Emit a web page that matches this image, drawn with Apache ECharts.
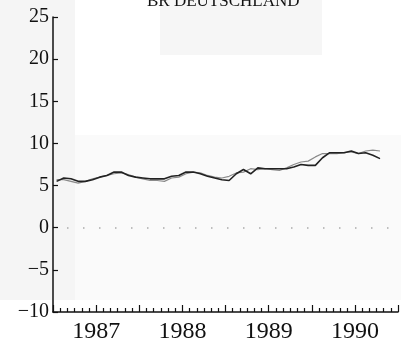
<!DOCTYPE html>
<html>
<head>
<meta charset="utf-8">
<script src="https://cdn.jsdelivr.net/npm/echarts@6/dist/echarts.min.js"></script>
<style>
  html, body { margin: 0; padding: 0; background: #ffffff; }
  #chart { width: 401px; height: 347px; }
</style>
</head>
<body>
<div id="chart"></div>
<script>
// Monthly rates, Jan 1987 .. Oct 1990 (month index 0 = Jan 1987)
const title = 'BR DEUTSCHLAND';
const years = ['1987', '1988', '1989', '1990'];
const seriesDark = [
  5.5, 5.9, 5.8, 5.5, 5.5, 5.7, 6.0, 6.2, 6.6, 6.6, 6.2, 6.0,
  5.9, 5.8, 5.8, 5.8, 6.1, 6.2, 6.6, 6.6, 6.4, 6.1, 5.9, 5.7,
  5.6, 6.4, 6.9, 6.4, 7.1, 7.0, 7.0, 7.0, 7.0, 7.2, 7.5, 7.4,
  7.4, 8.3, 8.9, 8.9, 8.9, 9.1, 8.8, 8.9, 8.6, 8.2
];
const seriesLight = [
  5.7, 5.7, 5.5, 5.3, 5.5, 5.8, 6.0, 6.2, 6.4, 6.5, 6.3, 6.0,
  5.8, 5.6, 5.6, 5.5, 5.9, 6.0, 6.4, 6.6, 6.5, 6.2, 6.0, 5.9,
  6.1, 6.5, 6.6, 7.0, 6.9, 7.0, 6.9, 6.8, 7.1, 7.5, 7.8, 7.9,
  8.4, 8.8, 8.8, 8.8, 8.9, 9.0, 8.8, 9.1, 9.2, 9.1
];
const yTicks = { min: -10, max: 25, step: 5 };

// place each monthly value at the middle of its month
const toPoints = arr => arr.map((v, i) => [i + 0.5, v]);

const serif = 'Liberation Serif';
const ink = '#111';
const chart = echarts.init(document.getElementById('chart'), null, { renderer: 'canvas' });

chart.setOption({
  animation: false,
  backgroundColor: '#ffffff',
  graphic: [
    { type: 'rect', z: -10, silent: true, shape: { x: 0, y: 0, width: 75, height: 300 }, style: { fill: '#f5f5f5' } },
    { type: 'rect', z: -10, silent: true, shape: { x: 160, y: 0, width: 162, height: 55 }, style: { fill: '#f6f6f6' } },
    { type: 'rect', z: -10, silent: true, shape: { x: 75, y: 135, width: 326, height: 165 }, style: { fill: '#fafafa' } }
  ],
  title: {
    text: title,
    left: 147,
    top: -7,
    padding: 0,
    textStyle: { fontFamily: serif, fontSize: 17, fontWeight: 'normal', color: ink }
  },
  grid: { left: 53, right: 1, top: 17, bottom: 35 },
  xAxis: {
    // months since Jan 1987: ticks every half year, minor ticks every month,
    // year name written at mid-year
    type: 'value',
    min: 0,
    max: 48,
    interval: 6,
    axisLine: { onZero: false, lineStyle: { color: ink, width: 1.5 } },
    axisTick: { show: true, inside: true, length: 7, lineStyle: { color: ink, width: 1.2 } },
    minorTick: { show: true, splitNumber: 6, length: 4, lineStyle: { color: ink, width: 1.2 } },
    splitLine: { show: false },
    minorSplitLine: { show: false },
    axisLabel: {
      formatter: v => (v % 12 === 6 ? years[Math.floor(v / 12)] : ''),
      margin: 8,
      fontFamily: serif,
      fontSize: 24,
      color: ink
    }
  },
  yAxis: {
    type: 'value',
    min: yTicks.min,
    max: yTicks.max,
    interval: yTicks.step,
    axisLine: { show: true, lineStyle: { color: ink, width: 1.5 } },
    axisTick: { show: true, inside: true, length: 5, lineStyle: { color: ink, width: 1.2 } },
    splitLine: { show: false },
    axisLabel: {
      formatter: v => String(v).replace('-', '\u2212'),
      margin: 4,
      fontFamily: serif,
      fontSize: 20,
      color: ink
    }
  },
  series: [
    {
      type: 'line',
      data: toPoints(seriesLight),
      symbol: 'none',
      lineStyle: { color: '#8a8a8a', width: 1.2 },
      z: 2
    },
    {
      type: 'line',
      data: toPoints(seriesDark),
      symbol: 'none',
      lineStyle: { color: '#222', width: 1.6 },
      z: 3,
      markLine: {
        silent: true,
        symbol: 'none',
        label: { show: false },
        lineStyle: { color: '#aaa', width: 1.5, type: [1.5, 14.5], dashOffset: -14 },
        data: [{ yAxis: 0 }]
      }
    }
  ]
});
</script>
</body>
</html>
